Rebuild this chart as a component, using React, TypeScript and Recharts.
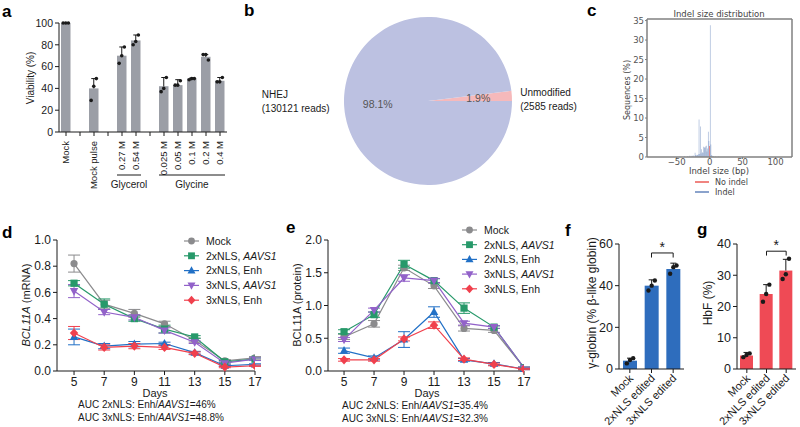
import React from 'react';
import { BarChart, Bar, XAxis, YAxis, PieChart, Pie, Cell, LineChart, Line, ErrorBar, ReferenceLine } from 'recharts';

const SANS = '"Liberation Sans", Arial, Helvetica, sans-serif';
const MPL = '"DejaVu Sans", sans-serif';
const INK = '#1a1a1a';

// ---------- panel a: viability ----------
const viabilityCats = ['Mock', '_1', 'Mock pulse', '_2', '0.27 M', '0.54 M', '_3', '0.025 M', '0.05 M', '0.1 M', '0.2 M', '0.4 M'];
const viabilityMeans = [100, null, 40, null, 70, 84, null, 42, 43, 49, 69, 47];
const viabilitySD = [0, null, 9, null, 8, 5, null, 8, 5, 0.5, 2, 3];
const viabilityReps = [[100, 100, 100], null, [42, 49, 29], null, [70, 78, 63], [83, 89, 80], null, [40, 50, 37], [43, 47, 43], [49, 49, 48], [71, 66, 71], [46, 50, 46]];
const viabilityGroups = [
  { label: 'Glycerol', first: '0.27 M', count: 2 },
  { label: 'Glycine', first: '0.025 M', count: 5 },
];
const viabilityTicks = [0, 20, 40, 60, 80, 100];

// ---------- panel b: pie ----------
const pieNames = ['Unmodified', 'NHEJ'];
const pieReads = [2585, 130121];
const pieColors = ['#f6b9bb', '#bcc1e1'];

// ---------- panel c: indel histogram ----------
const indelSizes = [-45, -38, -33, -30, -28, -26, -24, -22, -21, -20, -19, -18, -17, -16, -15, -14, -13, -12, -11, -10, -9, -8, -7, -6, -5, -4, -3, -2, -1, 1, 2, 3, 4, 6, 9, 14];
const indelPct = [0.15, 0.2, 0.25, 0.3, 0.35, 0.3, 0.4, 1.1, 0.5, 0.4, 0.6, 0.5, 0.7, 9.6, 0.8, 7.8, 0.9, 2.0, 1.2, 1.0, 2.6, 2.5, 2.3, 2.7, 2.9, 1.4, 2.2, 6.5, 4.1, 33.8, 3.2, 0.5, 0.3, 0.2, 0.15, 0.1];
const noIndelSize = 0;
const noIndelPct = 2.8;
const indelXTicks = [-50, 0, 50, 100];
const indelYTicks = [0, 5, 10, 15, 20, 25, 30, 35];

// ---------- panels d, e: time courses ----------
const days = [5, 7, 9, 11, 13, 15, 17];
const mrnaMock = [0.82, 0.51, 0.44, 0.36, 0.235, 0.077, 0.1];
const mrnaMockSD = [0.065, 0.03, 0.03, 0.02, 0.015, 0.01, 0.01];
const mrna2A = [0.67, 0.51, 0.4, 0.32, 0.26, 0.07, 0.09];
const mrna2ASD = [0.02, 0.04, 0.02, 0.03, 0.01, 0.01, 0.01];
const mrna2E = [0.26, 0.19, 0.205, 0.21, 0.14, 0.04, 0.05];
const mrna2ESD = [0.06, 0.02, 0.02, 0.01, 0.01, 0.005, 0.005];
const mrna3A = [0.61, 0.45, 0.41, 0.31, 0.22, 0.06, 0.09];
const mrna3ASD = [0.05, 0.02, 0.02, 0.02, 0.01, 0.01, 0.01];
const mrna3E = [0.29, 0.18, 0.19, 0.18, 0.135, 0.03, 0.04];
const mrna3ESD = [0.05, 0.02, 0.02, 0.015, 0.01, 0.005, 0.005];

const protMock = [0.52, 0.72, 1.575, 1.3, 0.65, 0.62, 0.05];
const protMockSD = [0.04, 0.05, 0.04, 0.04, 0.04, 0.03, 0.01];
const prot2A = [0.6, 0.86, 1.63, 1.38, 0.96, 0.67, 0.05];
const prot2ASD = [0.03, 0.04, 0.06, 0.03, 0.08, 0.02, 0.01];
const prot2E = [0.31, 0.2, 0.48, 0.9, 0.17, 0.11, 0.03];
const prot2ESD = [0.04, 0.03, 0.12, 0.08, 0.02, 0.02, 0.01];
const prot3A = [0.48, 0.93, 1.42, 1.38, 0.73, 0.67, 0.05];
const prot3ASD = [0.03, 0.03, 0.05, 0.03, 0.03, 0.02, 0.01];
const prot3E = [0.17, 0.17, 0.49, 0.7, 0.18, 0.1, 0.03];
const prot3ESD = [0.02, 0.02, 0.03, 0.05, 0.02, 0.02, 0.01];

const mrnaTicks = [0, 0.2, 0.4, 0.6, 0.8, 1.0];
const protTicks = [0, 0.5, 1.0, 1.5, 2.0];

// ---------- panels f, g ----------
const editCats = ['Mock', '2xNLS edited', '3xNLS edited'];
const gammaMeans = [4, 40, 48];
const gammaSD = [1.2, 2.8, 2.8];
const gammaReps = [[4.3, 5.2, 2.7], [40, 42.5, 37.7], [48.9, 49.7, 45.7]];
const gammaTicks = [0, 20, 40, 60];
const hbfMeans = [4.3, 24, 31.5];
const hbfSD = [1, 3, 3.6];
const hbfReps = [[4.5, 5, 3.8], [24, 27, 21.5], [30.3, 35.3, 28.8]];
const hbfTicks = [0, 10, 20, 30, 40];

const DOT_OFFSETS = [0, 2.6, -2.6];

// ---------- series meta ----------
type Shape = 'circle' | 'square' | 'up' | 'down' | 'diamond';
const seriesMeta: { key: string; color: string; shape: Shape; name: string; italic: string }[] = [
  { key: 'mock', color: '#8b8b8d', shape: 'circle', name: 'Mock', italic: '' },
  { key: 'a2', color: '#27996a', shape: 'square', name: '2xNLS, ', italic: 'AAVS1' },
  { key: 'e2', color: '#2170c6', shape: 'up', name: '2xNLS, Enh', italic: '' },
  { key: 'a3', color: '#9262c9', shape: 'down', name: '3xNLS, ', italic: 'AAVS1' },
  { key: 'e3', color: '#f0404d', shape: 'diamond', name: '3xNLS, Enh', italic: '' },
];

const mrnaRows = days.map((d, i) => ({
  day: d,
  mock: mrnaMock[i], mockSD: mrnaMockSD[i],
  a2: mrna2A[i], a2SD: mrna2ASD[i],
  e2: mrna2E[i], e2SD: mrna2ESD[i],
  a3: mrna3A[i], a3SD: mrna3ASD[i],
  e3: mrna3E[i], e3SD: mrna3ESD[i],
}));
const protRows = days.map((d, i) => ({
  day: d,
  mock: protMock[i], mockSD: protMockSD[i],
  a2: prot2A[i], a2SD: prot2ASD[i],
  e2: prot2E[i], e2SD: prot2ESD[i],
  a3: prot3A[i], a3SD: prot3ASD[i],
  e3: prot3E[i], e3SD: prot3ESD[i],
}));

const viabilityRows = viabilityCats.map((c, i) => ({ cat: c, mean: viabilityMeans[i], sd: viabilitySD[i], reps: viabilityReps[i] }));
const gammaRows = editCats.map((c, i) => ({ cat: c, mean: gammaMeans[i], sd: gammaSD[i], reps: gammaReps[i] }));
const hbfRows = editCats.map((c, i) => ({ cat: c, mean: hbfMeans[i], sd: hbfSD[i], reps: hbfReps[i] }));
const pieRows = pieNames.map((n, i) => ({ name: n, reads: pieReads[i] }));
const histRows = [
  ...indelSizes.map((s, i) => ({ size: s, indel: indelPct[i], noindel: 0 })),
  { size: noIndelSize, indel: 0, noindel: noIndelPct },
];

// ---------- helpers ----------
function Marker({ shape, cx, cy, color, s = 1 }: any) {
  if (cx == null || cy == null) return null;
  switch (shape) {
    case 'circle':
      return <circle cx={cx} cy={cy} r={3.6 * s} fill={color} />;
    case 'square':
      return <rect x={cx - 3.6 * s} y={cy - 3.6 * s} width={7.2 * s} height={7.2 * s} fill={color} />;
    case 'up':
      return <polygon points={`${cx},${cy - 4.6 * s} ${cx - 4.2 * s},${cy + 3 * s} ${cx + 4.2 * s},${cy + 3 * s}`} fill={color} />;
    case 'down':
      return <polygon points={`${cx},${cy + 4.6 * s} ${cx - 4.2 * s},${cy - 3 * s} ${cx + 4.2 * s},${cy - 3 * s}`} fill={color} />;
    default:
      return <polygon points={`${cx},${cy - 4.6 * s} ${cx + 4.2 * s},${cy} ${cx},${cy + 4.6 * s} ${cx - 4.2 * s},${cy}`} fill={color} />;
  }
}

function makeBarShape(fill: string, dotR: number, cap: number) {
  return (props: any) => {
    const { x, y, width, height, payload } = props;
    if (!payload || payload.mean == null || !height) return <g />;
    const ppu = height / payload.mean;
    const base = y + height;
    const cx = x + width / 2;
    const sd = payload.sd || 0;
    const reps: number[] = payload.reps || [];
    return (
      <g>
        <rect x={x} y={y} width={width} height={height} fill={fill} />
        {sd > 0 && (
          <g stroke={INK} strokeWidth={1}>
            <line x1={cx} x2={cx} y1={y} y2={y - sd * ppu} />
            <line x1={cx - cap} x2={cx + cap} y1={y - sd * ppu} y2={y - sd * ppu} />
          </g>
        )}
        {reps.map((v, i) => (
          <circle key={i} cx={cx + DOT_OFFSETS[i] * (dotR / 1.8)} cy={base - v * ppu} r={dotR} fill={INK} />
        ))}
      </g>
    );
  };
}

// ---------- panel a ----------
const A_W = 240, A_LEFT = 59, A_RIGHT = 13;
const A_STEP = (A_W - A_LEFT - A_RIGHT) / viabilityCats.length;

function ViabilityTick(props: any) {
  const { x, y, payload } = props;
  const label: string = payload.value;
  const grp = viabilityGroups.find((g) => g.first === label);
  return (
    <g>
      {!label.startsWith('_') && (
        <text x={x} y={y + 3} transform={`rotate(-90 ${x} ${y + 3})`} textAnchor="end" dy="0.34em" fontSize={9.5} fill={INK} fontFamily={SANS}>
          {label}
        </text>
      )}
      {grp && (
        <g>
          <line x1={x - 5} x2={x + A_STEP * (grp.count - 1) + 5} y1={y + 37} y2={y + 37} stroke={INK} strokeWidth={1} />
          <text x={x + (A_STEP * (grp.count - 1)) / 2} y={y + 50} textAnchor="middle" fontSize={10} fill={INK} fontFamily={SANS}>
            {grp.label}
          </text>
        </g>
      )}
    </g>
  );
}

const PanelA = () => (
  <BarChart width={A_W} height={200} data={viabilityRows} margin={{ top: 23, right: A_RIGHT, left: 0, bottom: 0 }}>
    <XAxis dataKey="cat" type="category" interval={0} height={68} tickSize={4} tickLine={{ stroke: INK }} axisLine={{ stroke: INK }} tick={(p: any) => <ViabilityTick {...p} />} />
    <YAxis width={A_LEFT} domain={[0, 100]} ticks={viabilityTicks} interval={0} tickSize={4} tickLine={{ stroke: INK }} axisLine={{ stroke: INK }} tick={{ fontSize: 10.5, fill: INK, fontFamily: SANS }} />
    <Bar dataKey="mean" barSize={9.5} shape={makeBarShape('#9b9ea6', 1.8, 2.5)} isAnimationActive={false} />
  </BarChart>
);

// ---------- panel b ----------
const RAD = Math.PI / 180;
function renderPieLabel(props: any) {
  const { cx, cy, midAngle, outerRadius, percent, name, value } = props;
  const r1 = outerRadius * 0.6;
  const px = cx + r1 * Math.cos(-midAngle * RAD);
  const py = cy + r1 * Math.sin(-midAngle * RAD);
  const r2 = outerRadius * 1.1;
  const lx = cx + r2 * Math.cos(-midAngle * RAD);
  const ly = cy + r2 * Math.sin(-midAngle * RAD);
  const right = lx > cx;
  const tx = right ? lx : lx - 74;
  const ty = right ? ly + 1 : ly - 8.5;
  return (
    <g>
      <text x={px} y={py} textAnchor="middle" dominantBaseline="central" fontSize={10.5} fill="#555" fontFamily={SANS}>
        {(percent * 100).toFixed(1)}%
      </text>
      <text x={tx} y={ty} fontSize={10} fill={INK} fontFamily={SANS}>
        <tspan x={tx}>{name}</tspan>
        <tspan x={tx} dy={14}>({value} reads)</tspan>
      </text>
    </g>
  );
}

const PanelB = () => (
  <PieChart width={360} height={200} margin={{ top: 0, right: 0, bottom: 0, left: 0 }}>
    <Pie data={pieRows} dataKey="reads" nameKey="name" cx={188} cy={101} outerRadius={84} startAngle={0} endAngle={360} stroke="none" label={renderPieLabel} labelLine={false} isAnimationActive={false}>
      {pieRows.map((r, i) => (
        <Cell key={r.name} fill={pieColors[i]} />
      ))}
    </Pie>
  </PieChart>
);

// ---------- panel c ----------
const PanelC = () => (
  <BarChart width={200} height={200} data={histRows} margin={{ top: 19, right: 8, left: 0, bottom: 23 }}>
    <XAxis dataKey="size" type="number" domain={[-95, 125]} ticks={indelXTicks} interval={0} allowDataOverflow height={20} tickSize={2} tickMargin={0}
      axisLine={{ stroke: '#808080', strokeWidth: 1.5 }} tickLine={{ stroke: '#808080' }}
      tick={{ fontSize: 8.5, fill: '#555', fontFamily: MPL }} tickFormatter={(v: number) => (v < 0 ? `\u2212${Math.abs(v)}` : `${v}`)} />
    <YAxis width={47} domain={[0, 35.4]} ticks={indelYTicks} interval={0} allowDataOverflow tickSize={2} tickMargin={1}
      axisLine={{ stroke: '#808080', strokeWidth: 1.5 }} tickLine={{ stroke: '#808080' }}
      tick={{ fontSize: 8.5, fill: '#555', fontFamily: MPL }} />
    <ReferenceLine x={125} stroke="#808080" strokeWidth={1.5} ifOverflow="visible" />
    <ReferenceLine y={35.4} stroke="#808080" strokeWidth={1.5} ifOverflow="visible" />
    <Bar dataKey="indel" stackId="h" barSize={1.6} fill="#4c72b0" fillOpacity={0.6} isAnimationActive={false} />
    <Bar dataKey="noindel" stackId="h" barSize={1.6} fill="#e8413c" isAnimationActive={false} />
  </BarChart>
);

// ---------- panels d, e ----------
function TimeCourse({ rows, ticks, domainX, yMax, yWidth, right }: any) {
  return (
    <LineChart width={270} height={170} data={rows} margin={{ top: 20, right, left: 0, bottom: 0 }}>
      <XAxis dataKey="day" type="number" domain={domainX} ticks={days} interval={0} allowDataOverflow height={19} tickSize={4}
        axisLine={{ stroke: INK }} tickLine={{ stroke: INK }} tick={{ fontSize: 12, fill: INK, fontFamily: SANS }} />
      <YAxis width={yWidth} domain={[0, yMax]} ticks={ticks} interval={0} tickSize={4}
        axisLine={{ stroke: INK }} tickLine={{ stroke: INK }} tick={{ fontSize: 12, fill: INK, fontFamily: SANS }}
        tickFormatter={(v: number) => v.toFixed(1)} />
      {seriesMeta.map((s) => (
        <Line key={s.key} dataKey={s.key} stroke={s.color} strokeWidth={1.2} isAnimationActive={false}
          dot={(p: any) => <Marker key={`${s.key}-${p.index}`} shape={s.shape} cx={p.cx} cy={p.cy} color={s.color} />}>
          <ErrorBar dataKey={`${s.key}SD`} direction="y" width={6} stroke={s.color} strokeWidth={1} />
        </Line>
      ))}
    </LineChart>
  );
}

// ---------- panels f, g ----------
function EditTick(props: any) {
  const { x, y, payload } = props;
  const tx = x + 4, ty = y + 4;
  return (
    <text x={tx} y={ty} transform={`rotate(-45 ${tx} ${ty})`} textAnchor="end" fontSize={11} fill={INK} fontFamily={SANS}>
      {payload.value}
    </text>
  );
}

function StarLabel(props: any) {
  const vb = props.viewBox || {};
  const cx = (vb.x || 0) + (vb.width || 0) / 2;
  return (
    <text x={cx} y={(vb.y || 0) - 1} textAnchor="middle" fontSize={14} fill={INK} fontFamily={SANS}>*</text>
  );
}

function EditBars({ rows, ticks, yMax, fill, width, yWidth, right, barSize, bracketY, bracketDrop }: any) {
  return (
    <BarChart width={width} height={202} data={rows} margin={{ top: 19, right, left: 0, bottom: 0 }}>
      <XAxis dataKey="cat" type="category" interval={0} height={58} tickSize={4} axisLine={{ stroke: INK }} tickLine={{ stroke: INK }} tick={(p: any) => <EditTick {...p} />} />
      <YAxis width={yWidth} domain={[0, yMax]} ticks={ticks} interval={0} tickSize={4} axisLine={{ stroke: INK }} tickLine={{ stroke: INK }} tick={{ fontSize: 12.5, fill: INK, fontFamily: SANS }} />
      <Bar dataKey="mean" barSize={barSize} shape={makeBarShape(fill, 2.2, 3)} isAnimationActive={false} />
      <ReferenceLine segment={[{ x: editCats[1], y: bracketY }, { x: editCats[2], y: bracketY }]} stroke={INK} strokeWidth={1} ifOverflow="visible" label={<StarLabel />} />
      <ReferenceLine segment={[{ x: editCats[1], y: bracketY }, { x: editCats[1], y: bracketY - bracketDrop }]} stroke={INK} strokeWidth={1} ifOverflow="visible" />
      <ReferenceLine segment={[{ x: editCats[2], y: bracketY }, { x: editCats[2], y: bracketY - bracketDrop }]} stroke={INK} strokeWidth={1} ifOverflow="visible" />
    </BarChart>
  );
}

// ---------- overlay ----------
function LegendBlock({ x, y0, dy }: any) {
  return (
    <g>
      {seriesMeta.map((s, i) => {
        const y = y0 + i * dy;
        return (
          <g key={s.key}>
            <line x1={x} x2={x + 15} y1={y} y2={y} stroke={s.color} strokeWidth={1.2} />
            <Marker shape={s.shape} cx={x + 7.5} cy={y} color={s.color} s={0.95} />
            <text x={x + 22} y={y + 3.8} fontSize={10.5} fill={INK} fontFamily={SANS}>
              {s.name}
              {s.italic && <tspan fontStyle="italic">{s.italic}</tspan>}
            </text>
          </g>
        );
      })}
    </g>
  );
}

const Letter = ({ x, y, c }: any) => (
  <text x={x} y={y} fontSize={17} fontWeight="bold" fill="#000" fontFamily={SANS}>{c}</text>
);

const Overlay = () => (
  <svg width={800} height={427} style={{ position: 'absolute', left: 0, top: 0, pointerEvents: 'none' }}>
    <Letter x={2} y={17} c="a" />
    <Letter x={244} y={16} c="b" />
    <Letter x={587} y={16} c="c" />
    <Letter x={2} y={238} c="d" />
    <Letter x={286} y={233} c="e" />
    <Letter x={565} y={236} c="f" />
    <Letter x={697} y={235} c="g" />

    {/* a */}
    <text x={31} y={78} transform="rotate(-90 31 78)" textAnchor="middle" dy="0.34em" fontSize={10} fill={INK} fontFamily={SANS}>Viability (%)</text>

    {/* c */}
    <text x={719} y={17} textAnchor="middle" fontSize={8.5} fill="#444" fontFamily={MPL}>Indel size distribution</text>
    <text x={719} y={174} textAnchor="middle" fontSize={8.5} fill="#444" fontFamily={MPL}>Indel size (bp)</text>
    <text x={627} y={90} transform="rotate(-90 627 90)" textAnchor="middle" dy="0.34em" fontSize={8} fill="#444" fontFamily={MPL}>Sequences (%)</text>
    <line x1={695} x2={709} y1={182} y2={182} stroke="#e8413c" strokeWidth={1.3} />
    <text x={715} y={185} fontSize={8} fill="#444" fontFamily={MPL}>No indel</text>
    <line x1={695} x2={709} y1={192} y2={192} stroke="#4c72b0" strokeWidth={1.3} />
    <text x={715} y={195} fontSize={8} fill="#444" fontFamily={MPL}>Indel</text>

    {/* d */}
    <text x={26} y={305} transform="rotate(-90 26 305)" textAnchor="middle" dy="0.34em" fontSize={11} fill={INK} fontFamily={SANS}>
      <tspan fontStyle="italic">BCL11A</tspan> (mRNA)
    </text>
    <text x={155} y={397} textAnchor="middle" fontSize={11} fill={INK} fontFamily={SANS}>Days</text>
    <text x={78} y={408} fontSize={10} fill={INK} fontFamily={SANS}>AUC 2xNLS: Enh/<tspan fontStyle="italic">AAVS1</tspan>=46%</text>
    <text x={78} y={421} fontSize={10} fill={INK} fontFamily={SANS}>AUC 3xNLS: Enh/<tspan fontStyle="italic">AAVS1</tspan>=48.8%</text>
    <LegendBlock x={184} y0={241} dy={14.8} />

    {/* e */}
    <text x={297} y={305} transform="rotate(-90 297 305)" textAnchor="middle" dy="0.34em" fontSize={11} fill={INK} fontFamily={SANS}>BCL11A (protein)</text>
    <text x={427} y={397} textAnchor="middle" fontSize={11} fill={INK} fontFamily={SANS}>Days</text>
    <text x={342} y={409} fontSize={10} fill={INK} fontFamily={SANS}>AUC 2xNLS: Enh/<tspan fontStyle="italic">AAVS1</tspan>=35.4%</text>
    <text x={342} y={422} fontSize={10} fill={INK} fontFamily={SANS}>AUC 3xNLS: Enh/<tspan fontStyle="italic">AAVS1</tspan>=32.3%</text>
    <LegendBlock x={462} y0={230} dy={14.7} />

    {/* f, g */}
    <text x={592} y={303} transform="rotate(-90 592 303)" textAnchor="middle" dy="0.34em" fontSize={12} fill={INK} fontFamily={SANS}>γ-globin (% β-like globin)</text>
    <text x={708} y={303} transform="rotate(-90 708 303)" textAnchor="middle" dy="0.34em" fontSize={12} fill={INK} fontFamily={SANS}>HbF (%)</text>
  </svg>
);

export default function App() {
  return (
    <div style={{ position: 'absolute', left: 0, top: 0, width: 800, height: 427, background: '#fff', overflow: 'hidden', fontFamily: SANS }}>
      <div style={{ position: 'absolute', left: 0, top: 0 }}><PanelA /></div>
      <div style={{ position: 'absolute', left: 240, top: 0 }}><PanelB /></div>
      <div style={{ position: 'absolute', left: 600, top: 0 }}><PanelC /></div>
      <div style={{ position: 'absolute', left: 0, top: 220 }}>
        <TimeCourse rows={mrnaRows} ticks={mrnaTicks} domainX={[3.87, 17]} yMax={1} yWidth={57} right={15} />
      </div>
      <div style={{ position: 'absolute', left: 270, top: 220 }}>
        <TimeCourse rows={protRows} ticks={protTicks} domainX={[3.93, 17]} yMax={2} yWidth={58} right={16} />
      </div>
      <div style={{ position: 'absolute', left: 560, top: 225 }}>
        <EditBars rows={gammaRows} ticks={gammaTicks} yMax={60} fill="#2e6dbd" width={130} yWidth={59} right={6} barSize={14} bracketY={55.7} bracketDrop={2.2} />
      </div>
      <div style={{ position: 'absolute', left: 680, top: 225 }}>
        <EditBars rows={hbfRows} ticks={hbfTicks} yMax={40} fill="#ef4a55" width={120} yWidth={57} right={4} barSize={13} bracketY={37.7} bracketDrop={1.4} />
      </div>
      <Overlay />
    </div>
  );
}
